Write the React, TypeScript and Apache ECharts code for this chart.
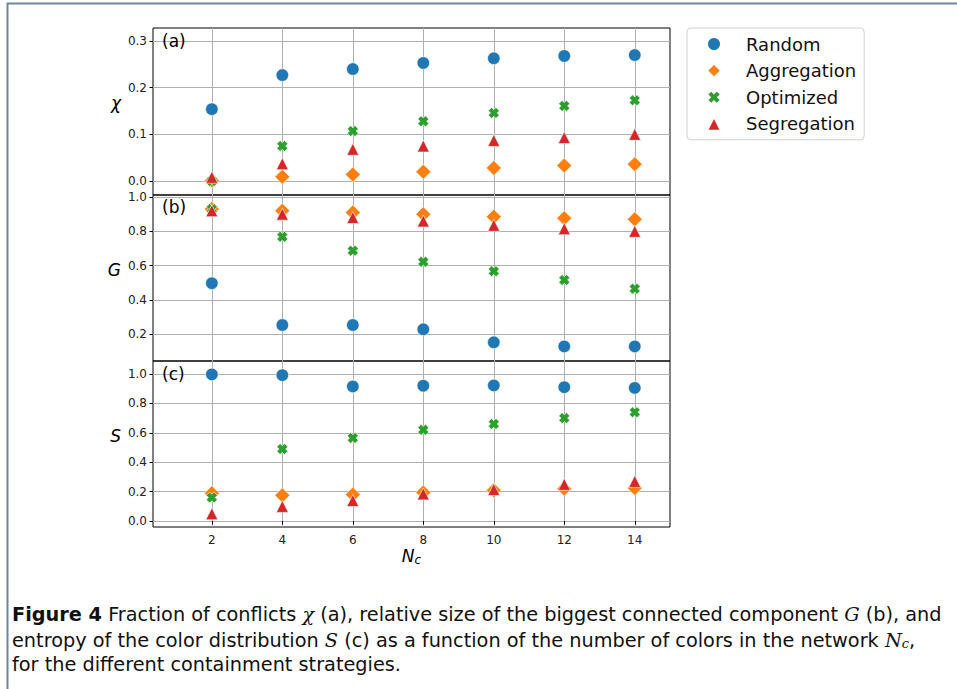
import React, { useEffect, useRef } from "react";
import * as echarts from "echarts";

const NC = [2, 4, 6, 8, 10, 12, 14];
const xTicks = [2, 4, 6, 8, 10, 12, 14];
const chiTicks = [0, 0.1, 0.2, 0.3];
const gTicks = [0.2, 0.4, 0.6, 0.8, 1.0];
const sTicks = [0, 0.2, 0.4, 0.6, 0.8, 1.0];

const strategies = ["Random", "Aggregation", "Optimized", "Segregation"];

// (a) fraction of conflicts chi
const chiRandom = [0.154, 0.227, 0.24, 0.253, 0.263, 0.268, 0.27];
const chiAggregation = [0.001, 0.009, 0.014, 0.02, 0.028, 0.033, 0.036];
const chiOptimized = [0.0, 0.075, 0.107, 0.128, 0.146, 0.161, 0.173];
const chiSegregation = [0.008, 0.037, 0.068, 0.075, 0.087, 0.093, 0.1];

// (b) biggest connected component G
const gRandom = [0.497, 0.253, 0.253, 0.228, 0.152, 0.128, 0.128];
const gAggregation = [0.93, 0.92, 0.91, 0.9, 0.885, 0.877, 0.87];
const gOptimized = [0.93, 0.768, 0.687, 0.622, 0.567, 0.516, 0.465];
const gSegregation = [0.92, 0.9, 0.88, 0.86, 0.835, 0.815, 0.8];

// (c) entropy S
const sRandom = [0.997, 0.992, 0.915, 0.92, 0.922, 0.91, 0.905];
const sAggregation = [0.19, 0.175, 0.18, 0.195, 0.21, 0.22, 0.225];
const sOptimized = [0.16, 0.49, 0.565, 0.62, 0.66, 0.7, 0.74];
const sSegregation = [0.05, 0.1, 0.14, 0.185, 0.215, 0.25, 0.27];

const colors = ["#1f77b4", "#ff7f0e", "#2ca02c", "#d62728"];
const XPATH = "path://M3,0L5,2L7,0L10,3L8,5L10,7L7,10L5,8L3,10L0,7L2,5L0,3Z";
const symbols = ["circle", "diamond", XPATH, "triangle"];
const symbolSizes: any[] = [12.5, 15, 11, 12];

const panels = [
  [chiRandom, chiAggregation, chiOptimized, chiSegregation],
  [gRandom, gAggregation, gOptimized, gSegregation],
  [sRandom, sAggregation, sOptimized, sSegregation],
];

const FONT = "DejaVu Sans";

export default function App() {
  const ref = useRef<HTMLDivElement>(null);
  useEffect(() => {
    document.body.style.margin = "0";
    const chart = echarts.init(ref.current!, null, { renderer: "svg" });

    const grids = [
      { left: 153, right: 287, top: 28, height: 167 },
      { left: 153, right: 287, top: 195, height: 166 },
      { left: 153, right: 287, top: 361, height: 166 },
    ].map((g) => ({ ...g, show: true, borderColor: "#000", borderWidth: 1, backgroundColor: "transparent" }));

    const gridLine = { show: true, lineStyle: { color: "#b0b0b0", width: 1 } };
    const tickLbl = { fontFamily: FONT, fontSize: 12, color: "#222" };

    const xAxes = [0, 1, 2].map((i) => ({
      type: "value",
      gridIndex: i,
      min: 0.33,
      max: 15,
      axisLine: { show: false },
      axisTick: { show: i === 2, length: 3.5, lineStyle: { color: "#000" }, customValues: xTicks },
      axisLabel: { show: i === 2, customValues: xTicks, margin: 7, ...tickLbl },
      splitLine: gridLine,
      name: i === 2 ? "{n|N}{s|c}" : "",
      nameLocation: "middle",
      nameGap: 15,
      nameTextStyle: {
        rich: {
          n: { fontFamily: FONT, fontStyle: "italic", fontSize: 17, lineHeight: 20, color: "#000" },
          s: { fontFamily: FONT, fontStyle: "italic", fontSize: 12, lineHeight: 12, verticalAlign: "bottom", padding: [7, 0, 0, 0], color: "#000" },
        },
      },
    }));

    const yDefs = [
      { min: -0.03, max: 0.328, ticks: chiTicks, name: "χ" },
      { min: 0.043, max: 1.012, ticks: gTicks, name: "G" },
      { min: -0.04, max: 1.088, ticks: sTicks, name: "S" },
    ];
    const yAxes = yDefs.map((d, i) => ({
      type: "value",
      gridIndex: i,
      min: d.min,
      max: d.max,
      axisLine: { show: false },
      axisTick: { show: true, length: 3.5, lineStyle: { color: "#000" }, customValues: d.ticks },
      axisLabel: { customValues: d.ticks, margin: 6, formatter: (v: number) => v.toFixed(1), ...tickLbl },
      splitLine: gridLine,
      name: d.name,
      nameLocation: "middle",
      nameRotate: 0,
      nameGap: 32,
      nameTextStyle: { fontFamily: FONT, fontStyle: "italic", fontSize: 17, color: "#000", verticalAlign: "bottom" },
    }));

    const series: any[] = [];
    panels.forEach((vals, p) => {
      vals.forEach((arr, k) => {
        series.push({
          type: "scatter",
          name: strategies[k],
          xAxisIndex: p,
          yAxisIndex: p,
          symbol: symbols[k],
          symbolSize: symbolSizes[k],
          itemStyle: { color: colors[k], borderColor: "#fff", borderWidth: 0.6, opacity: 1 },
          data: NC.map((x, i) => [x, arr[i]]),
          z: 3 + k,
        });
      });
    });

    const capBase = { fontFamily: "DejaVu Sans", fontSize: 19.3, color: "#111" };
    const capRich = {
      b: { ...capBase, fontWeight: "bold" },
      m: { fontFamily: "DejaVu Serif", fontStyle: "italic", fontSize: 19.3, color: "#111" },
      s: { fontFamily: "DejaVu Serif", fontStyle: "italic", fontSize: 13, lineHeight: 13, verticalAlign: "bottom", padding: [6, 0, 0, 0], color: "#111" },
    };
    const capLines = [
      "{b|Figure 4} Fraction of conflicts {m|χ} (a), relative size of the biggest connected component {m|G} (b), and",
      "entropy of the color distribution {m|S} (c) as a function of the number of colors in the network {m|N}{s|c},",
      "for the different containment strategies.",
    ];
    const capY = [614, 640, 664];

    const panelLabels = ["(a)", "(b)", "(c)"];
    const panelLabelY = [41, 207, 374];

    chart.setOption({
      animation: false,
      backgroundColor: "#fff",
      grid: grids,
      xAxis: xAxes,
      yAxis: yAxes,
      series,
      legend: {
        orient: "vertical",
        left: 687,
        top: 28,
        padding: [6, 8, 6, 19],
        itemGap: 6.6,
        itemWidth: 14,
        itemHeight: 14,
        borderColor: "#d0d0d0",
        borderWidth: 1,
        borderRadius: 4,
        backgroundColor: "#fff",
        textStyle: { fontFamily: FONT, fontSize: 18, color: "#111", lineHeight: 20, padding: [0, 0, 0, 20] },
        data: strategies,
      },
      graphic: [
        {
          type: "rect",
          silent: true,
          shape: { x: 7.5, y: 3.5, width: 1200, height: 1200 },
          style: { fill: "none", stroke: "#6d86a0", lineWidth: 2 },
        },
        ...panelLabels.map((t, i) => ({
          type: "text",
          x: 162,
          y: panelLabelY[i],
          z: 10,
          style: { text: t, fontFamily: FONT, fontSize: 17, fill: "#000", verticalAlign: "middle" },
        })),
        ...capLines.map((t, i) => ({
          type: "text",
          x: 12,
          y: capY[i],
          style: { text: t, ...capBase, fill: "#111", verticalAlign: "middle", rich: capRich },
        })),
      ],
    });
    return () => chart.dispose();
  }, []);
  return <div ref={ref} style={{ width: 957, height: 689 }} />;
}
